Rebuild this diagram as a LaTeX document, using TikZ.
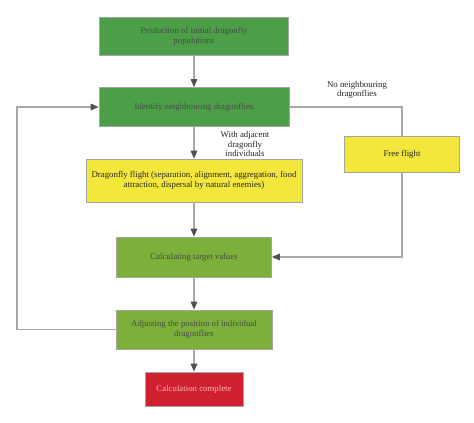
\documentclass[tikz,border=0pt]{standalone}
\usepackage{fontspec}
\setmainfont{Liberation Serif}
\usetikzlibrary{arrows.meta}
\definecolor{dkgreen}{HTML}{4C9F48}
\definecolor{ltgreen}{HTML}{7DAF3B}
\definecolor{flyyellow}{HTML}{F3E73C}
\definecolor{stopred}{HTML}{CF2030}
\definecolor{boxgray}{HTML}{A5A5A5}
\definecolor{linegray}{HTML}{A8A8A8}
\definecolor{arrowgray}{HTML}{505050}
\definecolor{textgray}{HTML}{4A4A4A}

\begin{document}
\begin{tikzpicture}[x=0.75pt, y=-0.75pt,
    >={Triangle[length=6pt, width=5pt, color=arrowgray]},
    font=\fontsize{6.6}{7.3}\selectfont,
    stepbox/.style={
        draw=boxgray, line width=0.6pt, align=center, inner sep=2pt,
        text=textgray
    },
    link/.style={->, draw=linegray, line width=0.8pt},
    wire/.style={-, draw=linegray, line width=0.8pt},
    tlab/.style={align=center, text=black!85, inner sep=1pt},
]
\useasboundingbox (0,0) rectangle (474,423);

% ================= boxes =================
\node[stepbox, fill=dkgreen, minimum width=141.75pt, minimum height=28.5pt]
    (init) at (194,36) {Production of initial dragonfly\\populations};
\node[stepbox, fill=dkgreen, minimum width=142.5pt, minimum height=29.25pt]
    (ident) at (194,107) {Identify neighbouring dragonflies};
\node[stepbox, fill=flyyellow, text=black!85, minimum width=162pt, minimum height=32.25pt]
    (flight) at (194,180.5) {Dragonfly flight (separation, alignment, aggregation, food\\attraction, dispersal by natural enemies)};
\node[stepbox, fill=flyyellow, text=black!85, minimum width=86.25pt, minimum height=27pt]
    (free) at (402,154) {Free flight};
\node[stepbox, fill=ltgreen, minimum width=116.25pt, minimum height=30pt]
    (calc) at (194,257) {Calculating target values};
\node[stepbox, fill=ltgreen, minimum width=117pt, minimum height=29.25pt]
    (adjust) at (194,329.5) {Adjusting the position of individual\\dragonflies};
\node[stepbox, fill=stopred, text=red!30!white, minimum width=73.5pt, minimum height=25.5pt]
    (done) at (194,389) {Calculation complete};

% ================= labels =================
\node[tlab] (nolab) at (357,90) {No neighbouring\\dragonflies};
\node[tlab] (withlab) at (245,144) {With adjacent\\dragonfly\\individuals};

% ================= connectors =================
\coordinate (back) at (17,329.5);

\draw[link] (init) -- (ident);
\draw[link] (ident) -- (flight);
\draw[link] (flight) -- (calc);
\draw[link] (calc) -- (adjust);
\draw[link] (adjust) -- (done);
\draw[wire] (ident.east) -| (free.north);
\draw[link] (free.south) |- (calc.east);
\draw[link] (adjust.west) -- (back) |- (ident.west);

\end{tikzpicture}
\end{document}
